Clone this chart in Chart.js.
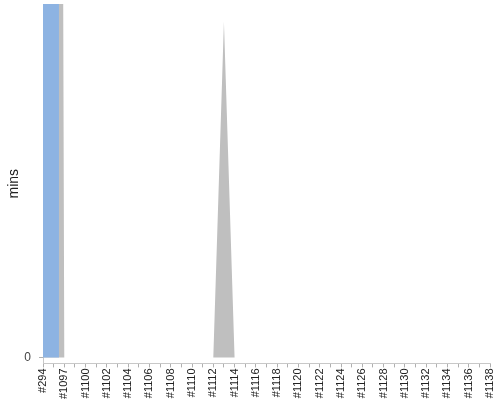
<!DOCTYPE html>
<html lang="en">
<head>
    <meta charset="UTF-8">
    <title>mins per build</title>
    <script src="https://cdn.jsdelivr.net/npm/chart.js"></script>
    <style>
        html, body {
            margin: 0;
            padding: 0;
            background: #fff;
        }
        #wrap {
            width: 500px;
            height: 400px;
        }
    </style>
</head>
<body>
<div id="wrap">
    <canvas id="buildChart" width="500" height="400"></canvas>
</div>

<script>
    // builds along the x axis
    const builds = ["#294", "#1096", "#1097", "#1098", "#1100", "#1101", "#1102", "#1103", "#1104", "#1105",
        "#1106", "#1107", "#1108", "#1109", "#1110", "#1111", "#1112", "#1113", "#1114", "#1115",
        "#1116", "#1117", "#1118", "#1119", "#1120", "#1121", "#1122", "#1123", "#1124", "#1125",
        "#1126", "#1127", "#1128", "#1129", "#1130", "#1131", "#1132", "#1133", "#1134", "#1135",
        "#1136", "#1137", "#1138"];

    // first two builds go far off the top of the chart
    const blueMins = [1000, 1000, 0, 0, 0, 0, 0, 0, 0, 0,
        0, 0, 0, 0, 0, 0, 0, 0, 0, 0,
        0, 0, 0, 0, 0, 0, 0, 0, 0, 0,
        0, 0, 0, 0, 0, 0, 0, 0, 0, 0,
        0, 0, 0];
    const greyMins = [1000, 1000, 0, 0, 0, 0, 0, 0, 0, 0,
        0, 0, 0, 0, 0, 0, 0, 95, 0, 0,
        0, 0, 0, 0, 0, 0, 0, 0, 0, 0,
        0, 0, 0, 0, 0, 0, 0, 0, 0, 0,
        0, 0, 0];

    const yTicks = [0];
    const yMin = -1.7;
    const yMax = 100;

    const ctx = document.getElementById("buildChart").getContext("2d");

    new Chart(ctx, {
        type: "line",
        data: {
            labels: builds,
            datasets: [
                {
                    label: "blue",
                    data: blueMins,
                    backgroundColor: "#8db3e2",
                    borderWidth: 0,
                    pointRadius: 0,
                    fill: "origin",
                    stepped: "middle"
                },
                {
                    label: "grey",
                    data: greyMins,
                    backgroundColor: "#bfbfbf",
                    borderWidth: 0,
                    pointRadius: 0,
                    fill: "origin",
                    tension: 0
                }
            ]
        },
        options: {
            responsive: false,
            animation: false,
            layout: {
                padding: { top: 4, right: 10, bottom: 0, left: 0 }
            },
            plugins: {
                legend: { display: false },
                tooltip: { enabled: false }
            },
            scales: {
                x: {
                    offset: false,
                    afterFit: function (axis) {
                        axis.paddingLeft = 0;
                        axis.paddingRight = 0;
                    },
                    grid: {
                        drawOnChartArea: false,
                        drawTicks: true,
                        tickLength: 4,
                        color: "#b0b0b0"
                    },
                    border: { display: true, color: "#c8c8c8" },
                    ticks: {
                        autoSkip: false,
                        minRotation: 90,
                        maxRotation: 90,
                        padding: 1,
                        color: "#222",
                        font: { family: "'Liberation Sans', Arial, sans-serif", size: 11 },
                        callback: function (value, index) {
                            return index % 2 === 0 ? this.getLabelForValue(value) : "";
                        }
                    }
                },
                y: {
                    min: yMin,
                    max: yMax,
                    afterBuildTicks: function (axis) {
                        axis.ticks = yTicks.map(v => ({ value: v }));
                    },
                    afterFit: function (axis) {
                        axis.width = 43;
                        axis.paddingTop = 0;
                        axis.paddingBottom = 0;
                    },
                    grid: {
                        drawOnChartArea: false,
                        drawTicks: true,
                        tickLength: 4,
                        color: "#b0b0b0"
                    },
                    border: { display: true, color: "#c8c8c8" },
                    ticks: {
                        padding: 8,
                        color: "#444",
                        font: { family: "'Liberation Sans', Arial, sans-serif", size: 12 }
                    },
                    title: {
                        display: true,
                        text: "mins",
                        color: "#222",
                        padding: { top: 6, bottom: 0 },
                        font: { family: "'Liberation Sans', Arial, sans-serif", size: 14 }
                    }
                }
            }
        }
    });
</script>
</body>
</html>
